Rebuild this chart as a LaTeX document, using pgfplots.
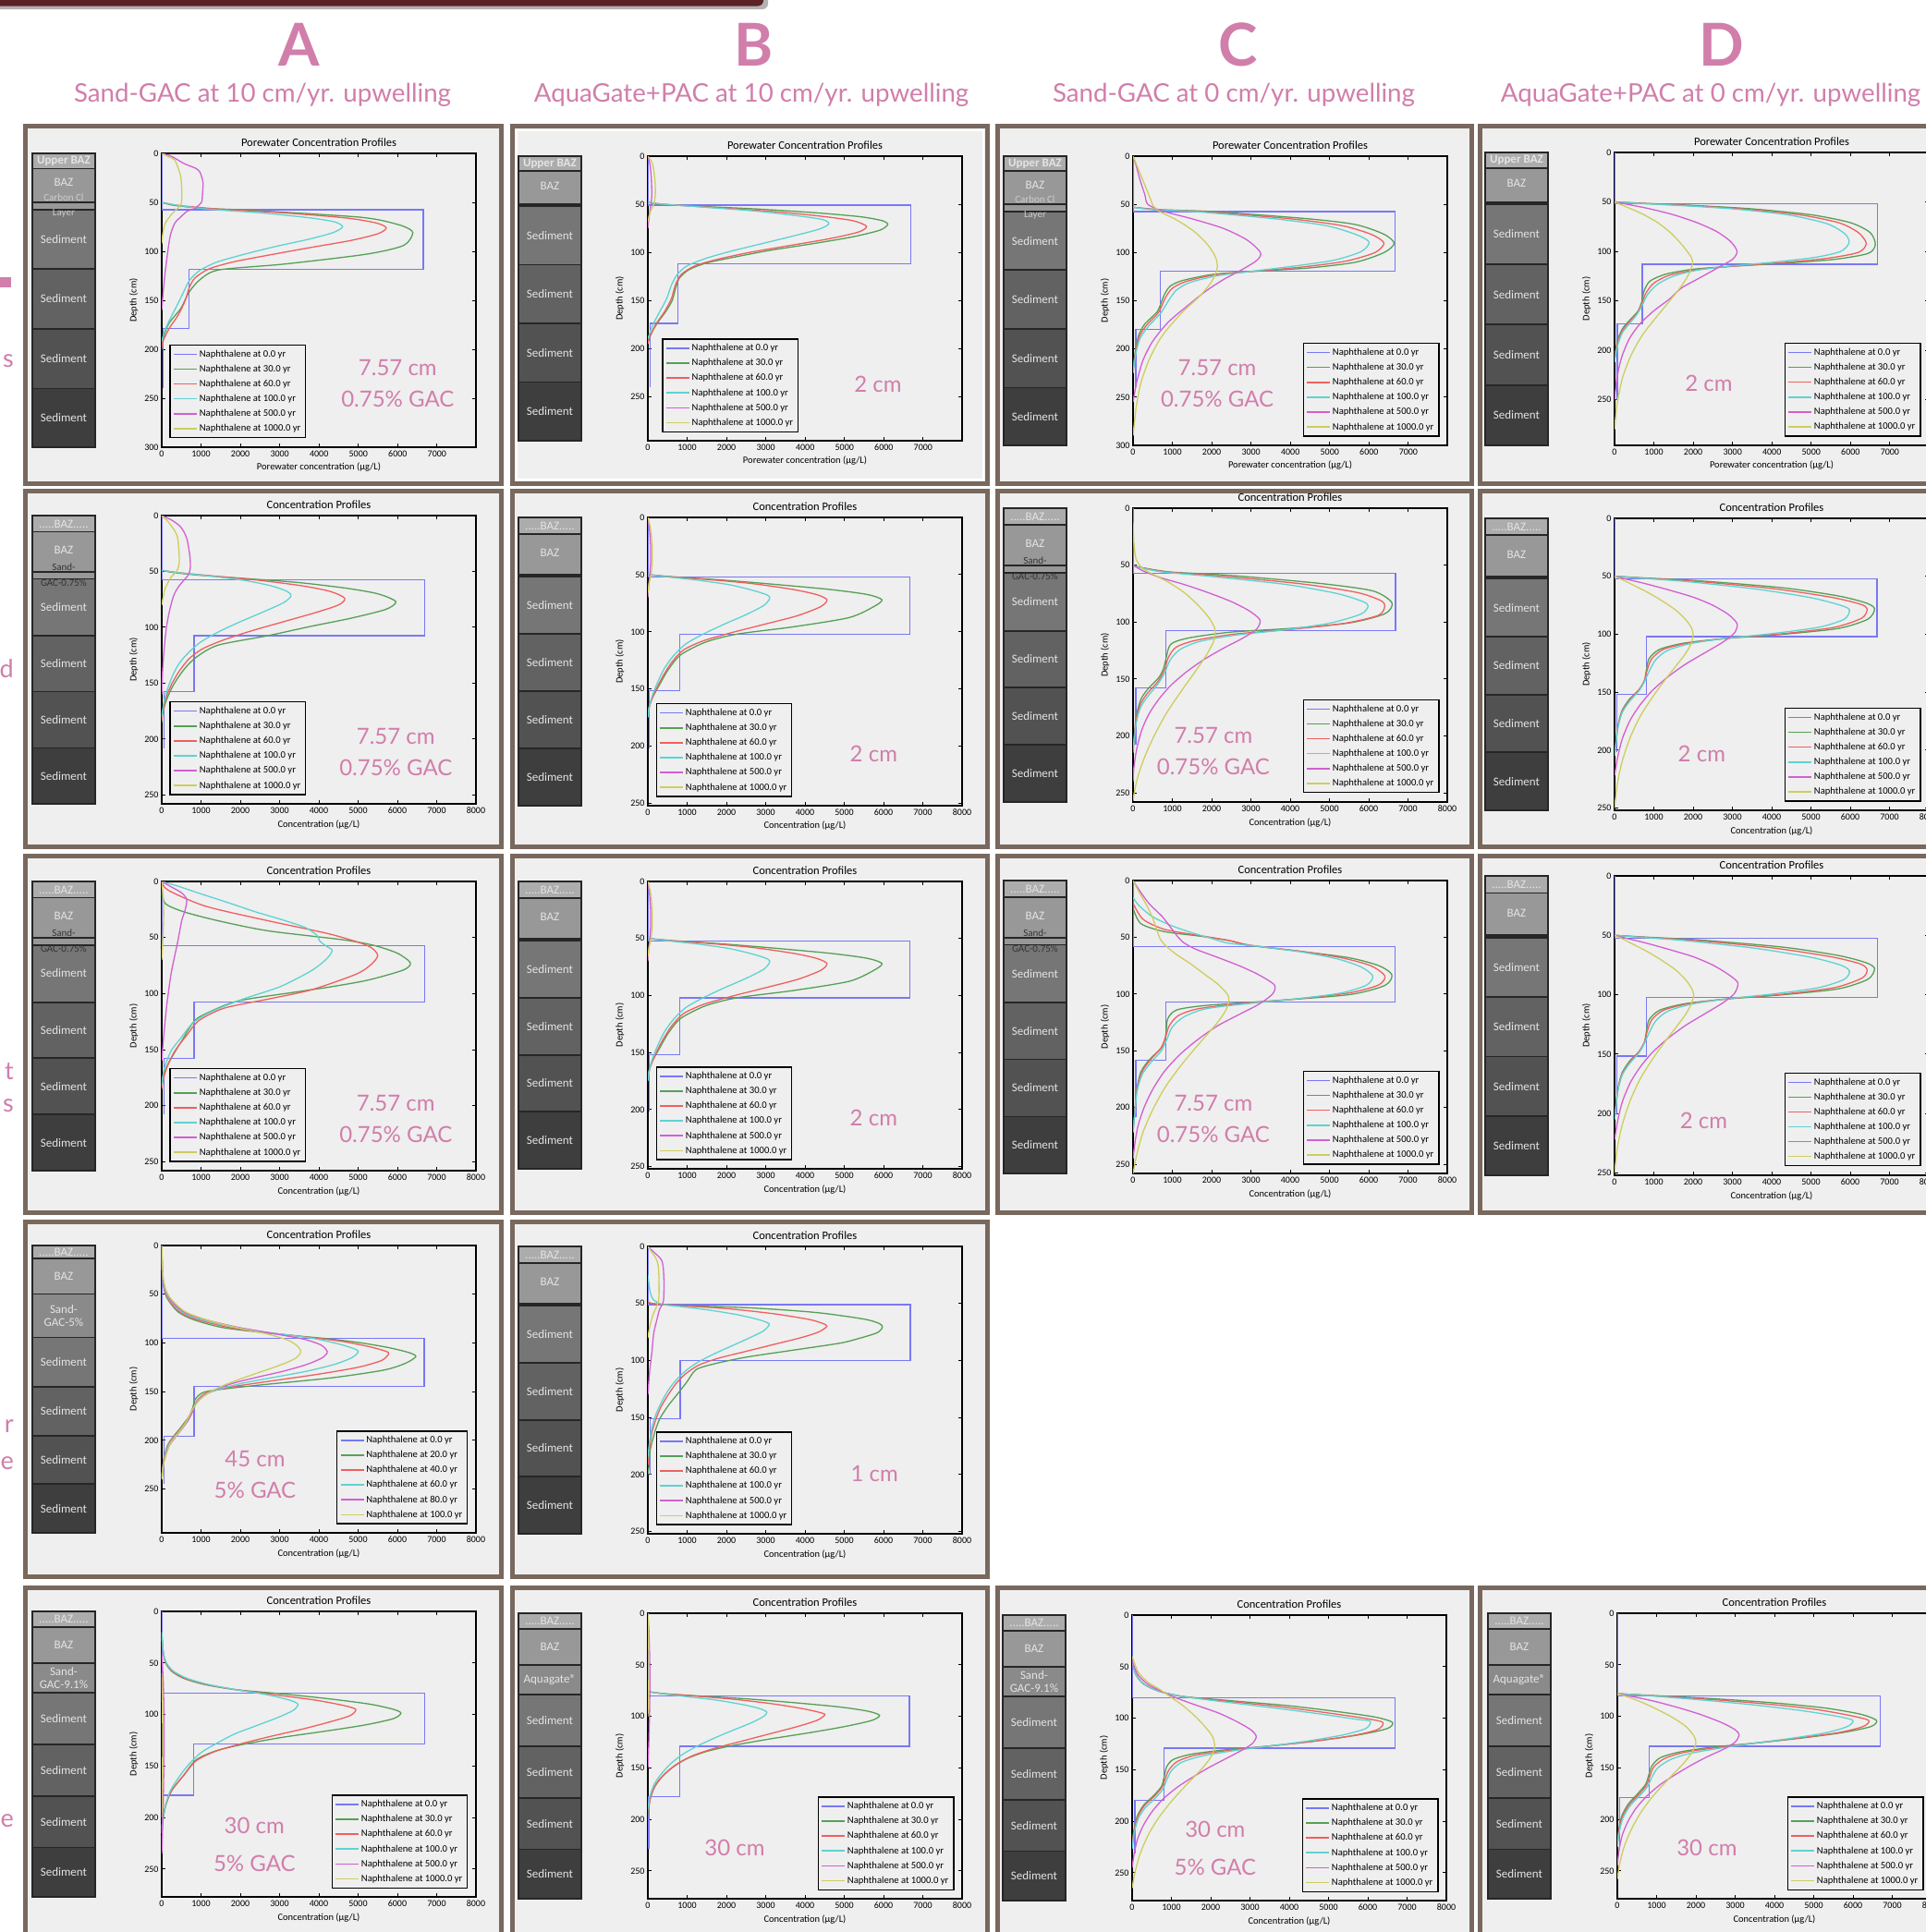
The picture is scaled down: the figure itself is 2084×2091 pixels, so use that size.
\documentclass[border=0pt]{standalone}
\usepackage{fontspec}
\setmainfont{Carlito}
\newfontfamily\lato{Lato}
\usepackage{pgfplots}
\pgfplotsset{compat=1.18}

\definecolor{pbg}{RGB}{239,239,239}
\definecolor{pbord}{RGB}{120,104,93}
\definecolor{pinkc}{RGB}{209,126,171}
\definecolor{topred}{RGB}{92,34,38}
\definecolor{cB}{RGB}{120,120,245}
\definecolor{cG}{RGB}{85,160,85}
\definecolor{cR}{RGB}{240,95,95}
\definecolor{cC}{RGB}{95,210,210}
\definecolor{cM}{RGB}{210,95,210}
\definecolor{cY}{RGB}{205,205,95}
\definecolor{lU}{RGB}{172,172,172}
\definecolor{lB}{RGB}{152,152,152}
\definecolor{lS}{RGB}{138,138,138}
\definecolor{sA}{RGB}{118,118,118}
\definecolor{sB}{RGB}{98,98,98}
\definecolor{sC}{RGB}{82,82,82}
\definecolor{sD}{RGB}{62,62,62}
\definecolor{laytx}{RGB}{228,228,228}

\newcommand\tickf{\fontsize{10}{11}\selectfont}
\newcommand\labf{\fontsize{10.5}{12}\selectfont}
\newcommand\titf{\fontsize{12.5}{14}\selectfont}
\newcommand\legf{\fontsize{10.6}{11.5}\selectfont}
\newcommand\layf{\fontsize{13}{14}\selectfont}
\newcommand\annf{\lato\fontsize{24}{34}\selectfont}

\pgfplotsset{
 pbase/.style={
  scale only axis, width=340pt, anchor=north west,
  xmin=0, ymin=0, y dir=reverse,
  xtick={0,1000,...,8000}, ytick={0,50,...,300},
  tick align=inside, major tick length=4pt,
  every tick/.style={black, line width=0.9pt},
  axis line style={black, line width=1.4pt},
  tick label style={font=\tickf},
  label style={font=\labf},
  title style={font=\titf, yshift=-2pt},
  ylabel={Depth (cm)},
  scaled ticks=false,
  /pgf/number format/assume math mode=true,
  /pgf/number format/1000 sep={},
  clip mode=individual,
  legend cell align=left,
  legend style={font=\legf, draw=black, line width=1.2pt, fill=pbg, inner sep=3.5pt, row sep=3.2pt,
    /tikz/every even column/.append style={column sep=4pt}},
  legend image code/.code={\draw (0pt,0pt) -- (25pt,0pt);},
 },
 prowone/.style={title={Porewater Concentration Profiles}, xlabel={Porewater concentration (µg/L)}, xmax=7990, xtick={0,1000,...,7000}},
 prow/.style={title={Concentration Profiles}, xlabel={Concentration (µg/L)}, xmax=8000},
 legLL/.style={legend style={at={(0.025,0.03)},anchor=south west}},
 legLR/.style={legend style={at={(0.975,0.03)},anchor=south east}},
 pB/.style={cB, line width=1.3pt},
 pG/.style={cG, line width=1.3pt, smooth, tension=0.45},
 pR/.style={cR, line width=1.3pt, smooth, tension=0.45},
 pC/.style={cC, line width=1.3pt, smooth, tension=0.45},
 pM/.style={cM, line width=1.3pt, smooth, tension=0.45},
 pY/.style={cY, line width=1.3pt, smooth, tension=0.45},
}
\tikzset{anno/.style={text=pinkc, font=\annf, align=center}}

\newcommand\legA{\legend{Naphthalene at 0.0 yr,Naphthalene at 30.0 yr,Naphthalene at 60.0 yr,Naphthalene at 100.0 yr,Naphthalene at 500.0 yr,Naphthalene at 1000.0 yr}}
\newcommand\legB{\legend{Naphthalene at 0.0 yr,Naphthalene at 20.0 yr,Naphthalene at 40.0 yr,Naphthalene at 60.0 yr,Naphthalene at 80.0 yr,Naphthalene at 100.0 yr}}

% layer block: depth1 depth2 mid colour label
\newcommand\lay[5]{%
 \filldraw[fill=#4, draw=black!85, line width=1.8pt] ({rel axis cs:-0.412,0}|-{axis cs:0,#1}) rectangle ({rel axis cs:-0.212,0}|-{axis cs:0,#2});
 \node[text=laytx, font=\layf, inner sep=0pt, align=center] at ({rel axis cs:-0.312,0}|-{axis cs:0,#3}) {#5};}
\newcommand\laynote[3]{\node[text=#2, font=\fontsize{11}{12}\selectfont, inner sep=0pt] at ({rel axis cs:-0.312,0}|-{axis cs:0,#1}) {#3};}

\newcommand\LsandP{%
 \lay{0}{15.5}{8}{lU}{\textbf{Upper BAZ}}
 \lay{15.5}{50}{30}{lB}{BAZ}
 \lay{50}{57.5}{53.7}{lB}{}
 \lay{57.5}{118}{88}{sA}{Sediment}
 \lay{118}{179}{148.5}{sB}{Sediment}
 \lay{179}{240}{209.5}{sC}{Sediment}
 \lay{240}{300}{270}{sD}{Sediment}
 \laynote{45}{black!20}{Carbon Cl}
 \laynote{61}{black!20}{Layer}}
\newcommand\LaquaP{%
 \lay{0}{15.5}{8}{lU}{\textbf{Upper BAZ}}
 \lay{15.5}{50}{31}{lB}{BAZ}
 \lay{50}{52}{51}{black!85}{}
 \lay{52}{113}{82.5}{sA}{Sediment}
 \lay{113}{174}{143.5}{sB}{Sediment}
 \lay{174}{235}{204.5}{sC}{Sediment}
 \lay{235}{296}{265.5}{sD}{Sediment}}
\newcommand\LsandC{%
 \lay{0}{14.4}{7.5}{lU}{.....BAZ.....}
 \lay{14.4}{50.5}{31}{lB}{BAZ}
 \lay{50.5}{56.6}{53.5}{lB}{}
 \lay{56.6}{107.7}{82}{sA}{Sediment}
 \lay{107.7}{157.5}{132.6}{sB}{Sediment}
 \lay{157.5}{208}{182.7}{sC}{Sediment}
 \lay{208}{258}{233}{sD}{Sediment}
 \laynote{46}{black!80}{Sand-}
 \laynote{60}{black!80}{GAC-0.75\%}}
\newcommand\LaquaC{%
 \lay{0}{14.4}{7.5}{lU}{.....BAZ.....}
 \lay{14.4}{50}{31}{lB}{BAZ}
 \lay{50}{52}{51}{black!85}{}
 \lay{52}{102}{77}{sA}{Sediment}
 \lay{102}{152}{127}{sB}{Sediment}
 \lay{152}{202}{177}{sC}{Sediment}
 \lay{202}{252}{227}{sD}{Sediment}}
\newcommand\LfourA{%
 \lay{0}{13.6}{7}{lU}{.....BAZ.....}
 \lay{13.6}{49.7}{31.5}{lB}{BAZ}
 \lay{49.7}{94.3}{72}{lS}{Sand-\\GAC-5\%}
 \lay{94.3}{145}{120}{sA}{Sediment}
 \lay{145}{195}{170}{sB}{Sediment}
 \lay{195}{245}{220}{sC}{Sediment}
 \lay{245}{295}{270}{sD}{Sediment}}
\newcommand\Lfive[1]{%
 \lay{0}{15}{7.5}{lU}{.....BAZ.....}
 \lay{15}{50}{32.5}{lB}{BAZ}
 \lay{50}{79}{64.5}{lS}{#1}
 \lay{79}{129}{104}{sA}{Sediment}
 \lay{129}{179}{154}{sB}{Sediment}
 \lay{179}{229}{204}{sC}{Sediment}
 \lay{229}{277}{253}{sD}{Sediment}}

\newcommand\pnl[4]{\draw[pbord, line width=5pt, fill=pbg] (#1pt+2.5pt,-#2pt-2.5pt) rectangle (#3pt-2.5pt,-#4pt+2.5pt);}

\begin{document}
\begin{tikzpicture}
\useasboundingbox (0pt,0pt) rectangle (2084pt,-2091pt);
\clip (0pt,0pt) rectangle (2084pt,-2091pt);
\fill[white] (0pt,0pt) rectangle (2084pt,-2091pt);
% top bar
\fill[black!30, rounded corners=6pt] (-20pt,10pt) rectangle (831pt,-10pt);
\fill[topred, rounded corners=6pt] (-20pt,10pt) rectangle (826pt,-6.5pt);
% headers
\foreach \x/\L in {324/A,816/B,1340/C,1863/D}
  \node[text=pinkc, font=\lato\bfseries\fontsize{64}{64}\selectfont, inner sep=0pt] at (\x pt,-48pt) {\L};
\node[text=pinkc, font=\lato\fontsize{27.7}{30}\selectfont, inner sep=0pt] at (284pt,-103pt) {Sand-GAC at 10 cm/yr. upwelling};
\node[text=pinkc, font=\lato\fontsize{27.7}{30}\selectfont, inner sep=0pt] at (813pt,-103pt) {AquaGate+PAC at 10 cm/yr. upwelling};
\node[text=pinkc, font=\lato\fontsize{27.7}{30}\selectfont, inner sep=0pt] at (1335pt,-103pt) {Sand-GAC at 0 cm/yr. upwelling};
\node[text=pinkc, font=\lato\fontsize{27.7}{30}\selectfont, inner sep=0pt] at (1851pt,-103pt) {AquaGate+PAC at 0 cm/yr. upwelling};
% left edge fragments
\fill[pinkc] (0pt,-300pt) rectangle (12pt,-311pt);
\foreach \y/\t in {391/s,724/d,1160/t,1197/s,1544/r,1584/e,1971/e}
  \node[text=pinkc, font=\lato\fontsize{27}{30}\selectfont, inner sep=0pt, anchor=east] at (15pt,-\y pt) {\t};
% panels
\pnl{25}{134}{545}{526}\pnl{552}{134}{1071}{526}\pnl{1077}{134}{1595}{526}\pnl{1599}{134}{2110}{526}
\draw[white, line width=2pt] (559pt,-141pt) rectangle (1064pt,-519pt);
\pnl{25}{529}{545}{919}\pnl{552}{529}{1071}{919}\pnl{1077}{529}{1595}{919}\pnl{1599}{529}{2110}{919}
\pnl{25}{924}{545}{1315}\pnl{552}{924}{1071}{1315}\pnl{1077}{924}{1595}{1315}\pnl{1599}{924}{2110}{1315}
\pnl{25}{1320}{545}{1709}\pnl{552}{1320}{1071}{1709}
\pnl{25}{1716}{545}{2110}\pnl{552}{1716}{1071}{2110}\pnl{1077}{1716}{1595}{2110}\pnl{1599}{1716}{2110}{2110}

% ===== Row 1 =====
\begin{axis}[pbase, prowone, at={(175pt,-166pt)}, height=318pt, ymax=300, legLL]
\addplot[pB] coordinates {(0,0) (0,57.5) (6650,57.5) (6650,118.5) (700,118.5) (700,179) (40,179) (40,240)};
\addplot[pG] coordinates {(0,50) (300,53) (1000,56) (1930,57.5) (3500,61) (5000,65) (5600,68.5) (6150,74.5) (6385,81) (6150,94) (5190,103) (3120,113) (1450,119) (970,129) (690,142) (490,158) (175,174) (30,190) (0,200)};
\addplot[pR] coordinates {(0,50) (400,53) (1500,57) (3200,61) (4700,66) (5450,71) (5710,76) (5500,82) (4800,89) (3800,96) (2700,104) (1800,111) (1200,118) (850,127) (700,137) (600,150) (420,165) (200,178) (50,190) (0,198)};
\addplot[pC] coordinates {(0,50) (400,53) (1200,57) (2600,61) (3800,66) (4400,70) (4600,75) (4350,81) (3700,88) (2900,95) (2100,103) (1400,111) (950,120) (700,130) (550,142) (380,156) (200,170) (60,183) (0,192)};
\addplot[pM] coordinates {(0,0) (250,3) (573,10.5) (850,15) (970,19) (1050,30) (1030,45) (1010,50) (850,56) (650,59) (480,65) (335,71) (230,82) (175,94) (95,119) (40,140) (0,160)};
\addplot[pY] coordinates {(0,0) (200,4) (335,7) (480,23) (510,40) (495,52) (380,57) (255,62) (95,71) (30,81) (0,92)};
\legA
\LsandP
\node[anno] at (axis cs:6000,235) {7.57 cm\\0.75\% GAC};
\end{axis}

\begin{axis}[pbase, prowone, at={(701pt,-169pt)}, height=308pt, ymax=296, legend style={at={(0.045,0.03)},anchor=south west}]
\addplot[pB] coordinates {(0,0) (0,51) (6680,51) (6680,112) (760,112) (760,174) (60,174) (60,240)};
\addplot[pG] coordinates {(0,48) (300,50) (1200,52) (2800,55) (4300,59) (5400,63) (5950,67) (6100,71) (5900,77) (5200,84) (4200,91) (3100,98) (2200,105) (1500,111) (1050,118) (800,127) (700,138) (620,150) (450,162) (250,173) (80,185) (0,195)};
\addplot[pR] coordinates {(0,48) (400,50) (1500,53) (3000,57) (4300,62) (5200,67) (5560,73) (5350,79) (4600,86) (3600,93) (2600,100) (1800,107) (1200,114) (850,123) (700,134) (600,148) (420,162) (200,175) (50,188) (0,195)};
\addplot[pC] coordinates {(0,48) (400,50) (1400,53) (2700,57) (3800,62) (4450,66) (4600,70.5) (4350,76) (3700,83) (2900,91) (2100,99) (1500,106) (1000,114) (750,123) (600,134) (480,148) (300,162) (120,176) (0,190)};
\addplot[pM] coordinates {(0,0) (60,10) (90,25) (100,40) (80,50) (40,60) (0,75)};
\addplot[pY] coordinates {(0,0) (120,8) (180,25) (190,40) (150,50) (60,58) (0,68)};
\legA
\LaquaP
\node[anno] at (axis cs:5850,237) {2 cm};
\end{axis}

\begin{axis}[pbase, prowone, at={(1226pt,-169pt)}, height=313pt, ymax=300, legLR]
\addplot[pB] coordinates {(0,0) (0,57.6) (6660,57.6) (6660,119) (697,119) (697,180) (70,180) (70,240)};
\addplot[pG] coordinates {(0,53) (700,55.5) (2060,57.6) (4460,65) (5660,71) (6380,81) (6640,90.5) (6380,100) (5660,110) (4460,116) (3260,119) (2060,122.5) (1260,129) (940,135) (780,145) (620,161) (300,174) (140,186) (60,202) (0,220)};
\addplot[pR] coordinates {(0,53) (600,55.5) (1800,57.6) (4000,65) (5300,72) (6050,81) (6380,90) (6150,100) (5400,109) (4300,115) (3200,119) (2100,123) (1350,130) (1000,137) (820,147) (650,162) (350,175) (160,187) (70,203) (0,222)};
\addplot[pC] coordinates {(0,53) (500,55.5) (1600,57.6) (3600,65) (4900,72) (5650,81) (6000,89) (5800,99) (5100,108) (4100,114) (3100,119) (2150,124) (1450,131) (1100,139) (900,150) (700,163) (400,176) (180,189) (70,205) (0,225)};
\addplot[pM] coordinates {(0,0) (80,10) (180,25) (300,40) (376,50) (750,57) (1500,65) (2300,75) (2900,87) (3240,100) (3150,108) (2800,117) (2300,128) (1850,140) (1420,154) (900,172) (500,192) (250,212) (90,235) (0,255)};
\addplot[pY] coordinates {(0,0) (100,10) (250,25) (400,40) (520,52) (700,58) (1100,66) (1550,78) (1900,92) (2100,105) (2140,116) (2000,130) (1700,145) (1300,160) (900,178) (650,192) (400,212) (200,235) (80,260) (0,290)};
\legA
\LsandP
\node[anno] at (axis cs:2140,236) {7.57 cm\\0.75\% GAC};
\end{axis}

\begin{axis}[pbase, prowone, at={(1747pt,-165pt)}, height=317pt, ymax=296, legLR]
\addplot[pB] coordinates {(0,0) (0,52) (6680,52) (6680,113) (708,113) (708,173) (70,173) (70,250)};
\addplot[pG] coordinates {(0,50) (800,51.5) (2000,53.5) (3500,57) (5000,63) (6000,71) (6500,81) (6630,93) (6450,102) (5600,108) (4300,112) (3000,115) (2000,118) (1300,123) (900,130) (750,140) (700,150) (600,160) (420,168) (220,177) (90,188) (0,205)};
\addplot[pR] coordinates {(0,50) (700,51.5) (1800,53.5) (3200,57) (4700,63) (5700,71) (6200,81) (6400,92) (6200,101) (5400,107) (4200,111.5) (3000,115) (2100,118.5) (1400,124) (1000,132) (800,142) (700,152) (580,162) (400,170) (200,180) (80,192) (0,210)};
\addplot[pC] coordinates {(0,50) (600,51.5) (1600,53.5) (3000,57) (4400,63) (5400,72) (5850,82) (5965,91) (5750,100) (5100,106) (4000,111) (2900,115) (2100,119) (1500,125) (1100,133) (850,143) (720,153) (580,163) (400,172) (200,182) (80,195) (0,212)};
\addplot[pM] coordinates {(0,50) (400,53) (900,57) (1500,63) (2100,71) (2600,80) (2950,90) (3116,100) (3000,108) (2650,116) (2200,126) (1700,137) (1400,148) (1000,160) (650,173) (380,188) (180,207) (60,228) (0,250)};
\addplot[pY] coordinates {(0,50) (300,55) (700,62) (1100,71) (1450,82) (1750,95) (1950,106) (1986,112) (1900,122) (1700,135) (1400,150) (1050,167) (700,185) (420,205) (200,228) (60,255) (0,280)};
\legA
\LaquaP
\node[anno] at (axis cs:2394,233) {2 cm};
\end{axis}

% ===== Row 2 =====
\begin{axis}[pbase, prow, at={(175pt,-558pt)}, height=312pt, ymax=258, legLL]
\addplot[pB] coordinates {(0,0) (0,57.2) (6690,57.2) (6690,107.5) (827,107.5) (827,157.5) (60,157.5) (60,208)};
\addplot[pG] coordinates {(0,49) (300,51) (1000,53.5) (2200,56.5) (3500,60) (4700,65) (5500,70) (5960,77) (5700,84) (4800,92) (3815,99) (2700,107.5) (1430,116) (870,127) (560,138) (290,152) (110,166) (20,178) (0,185)};
\addplot[pR] coordinates {(0,49) (400,51) (1300,54) (2500,58) (3600,63) (4300,68) (4660,74) (4500,80) (3900,87) (3100,95) (2300,103) (1600,111) (1050,119) (700,128) (450,139) (250,151) (100,164) (20,176) (0,183)};
\addplot[pC] coordinates {(0,49) (400,51) (1200,54) (2100,58) (2800,63) (3200,68) (3290,72) (3100,78) (2600,86) (2000,95) (1450,104) (1000,113) (700,122) (450,132) (280,143) (140,156) (50,168) (0,180)};
\addplot[pM] coordinates {(0,0) (250,4) (450,9) (556,14) (650,22) (715,36) (730,46) (680,53) (560,58) (420,64) (300,72) (200,85) (120,100) (60,120) (20,140) (0,160)};
\addplot[pY] coordinates {(0,0) (150,5) (300,12) (400,19) (445,35) (440,44) (380,50) (240,55) (80,66) (0,80)};
\legA
\LsandC
\node[anno] at (axis cs:5960,212) {7.57 cm\\0.75\% GAC};
\end{axis}

\begin{axis}[pbase, prow, at={(701pt,-560pt)}, height=312pt, ymax=252, legLL]
\addplot[pB] coordinates {(0,0) (0,52) (6670,52) (6670,102) (808,102) (808,151.7) (40,151.7) (40,202)};
\addplot[pG] coordinates {(0,50) (680,52) (1800,54.5) (3060,58) (4640,63) (5590,67.4) (5960,72) (5750,78) (5120,87.6) (3690,95.7) (2270,102) (1470,109) (840,120) (520,133) (285,147) (80,160) (0,170)};
\addplot[pR] coordinates {(0,50) (600,52) (1600,54.5) (2700,58) (3700,63) (4300,67.5) (4560,72) (4400,78) (3800,86) (2900,94) (2100,101) (1400,108) (900,116) (600,127) (380,139) (200,151) (60,163) (0,172)};
\addplot[pC] coordinates {(0,50) (500,52) (1300,55) (2100,59) (2700,64) (3050,68) (3100,71) (2950,77) (2500,85) (1900,94) (1350,103) (950,111) (650,121) (420,132) (250,144) (110,156) (30,167) (0,175)};
\addplot[pM] coordinates {(0,0) (40,10) (70,25) (70,40) (50,50) (20,60) (0,70)};
\addplot[pY] coordinates {(0,0) (70,10) (110,25) (110,40) (80,50) (30,58) (0,66)};
\legA
\LaquaC
\node[anno] at (axis cs:5750,207) {2 cm};
\end{axis}

\begin{axis}[pbase, prow, at={(1226pt,-550pt)}, height=318pt, ymax=258, legLR]
\addplot[pB] coordinates {(0,0) (0,57.3) (6680,57.3) (6680,107.5) (833,107.5) (833,157.8) (70,157.8) (70,208)};
\addplot[pG] coordinates {(0,50) (200,52) (950,56) (2470,59) (4740,66) (6100,72.6) (6590,83) (6410,92.7) (5500,100.8) (3985,105.6) (2470,108.9) (1410,114) (955,119.6) (833,133) (773,141) (650,149) (380,158.6) (197,168) (90,181) (45,195) (0,215)};
\addplot[pR] coordinates {(0,50) (180,52) (850,56) (2200,59.5) (4300,66.5) (5700,74) (6300,81) (6410,86) (6250,94) (5400,101) (4000,106.5) (2600,110.5) (1600,116) (1100,122) (900,131) (800,142) (640,152) (380,162) (190,172) (80,186) (0,212)};
\addplot[pC] coordinates {(0,50) (160,52) (750,56) (2000,60) (3900,67) (5200,75) (5850,82) (5985,86) (5800,93) (5000,101) (3800,107) (2600,111.5) (1700,117) (1200,124) (950,133) (800,145) (620,155) (380,165) (190,175) (80,189) (0,212)};
\addplot[pM] coordinates {(0,50) (250,55) (700,61) (1300,67) (1900,74) (2500,82) (2950,90) (3230,98) (3150,106) (2800,114) (2300,123) (1800,133) (1350,144) (950,156) (650,168) (400,181) (220,195) (90,212) (20,228) (0,240)};
\addplot[pY] coordinates {(0,12) (20,30) (80,45) (250,53) (500,58) (900,65) (1300,74) (1650,85) (1950,97) (2090,107) (2050,117) (1850,130) (1550,145) (1200,162) (850,180) (550,199) (300,218) (120,236) (30,250) (0,257)};
\legA
\LsandC
\node[anno] at (axis cs:2045,213) {7.57 cm\\0.75\% GAC};
\end{axis}

\begin{axis}[pbase, prow, at={(1747pt,-561pt)}, height=316pt, ymax=252, legLR]
\addplot[pB] coordinates {(0,0) (0,52.3) (6680,52.3) (6680,102) (810,102) (810,151.7) (60,151.7) (60,202)};
\addplot[pG] coordinates {(0,50) (800,51.5) (2200,54) (4300,60) (5700,67) (6400,73) (6620,78) (6450,87) (5700,95) (4300,100) (2900,103.5) (1800,107.5) (1150,113) (880,121) (810,131) (760,140) (620,148) (380,156) (190,166) (80,180) (0,205)};
\addplot[pR] coordinates {(0,50) (700,51.5) (2000,54.2) (4000,60.5) (5500,68) (6250,74) (6430,78) (6300,86) (5600,94) (4300,99.5) (3000,103) (1900,107.5) (1250,113) (950,121) (830,131) (760,140) (620,148) (380,157) (190,167) (80,181) (0,205)};
\addplot[pC] coordinates {(0,50) (600,51.5) (1800,54.5) (3600,61) (5000,68.5) (5750,75) (5980,79) (5850,87) (5200,94) (4000,99.5) (2850,103.5) (1950,108) (1350,114) (1050,122) (880,132) (760,141) (620,149) (380,158) (190,168) (80,182) (0,205)};
\addplot[pM] coordinates {(0,50) (300,52.5) (800,56.5) (1400,62) (2000,68) (2500,75) (2900,83) (3120,91) (3050,99) (2750,107) (2300,116) (1800,126) (1350,137) (950,149) (650,161) (400,174) (200,190) (80,206) (0,222)};
\addplot[pY] coordinates {(0,50) (200,53) (500,58) (850,64) (1200,71) (1550,79) (1800,87) (1950,94) (2000,100) (1950,108) (1800,117) (1550,128) (1250,141) (950,155) (650,171) (400,189) (200,209) (70,229) (0,250)};
\legA
\LaquaC
\node[anno] at (axis cs:2220,203) {2 cm};
\end{axis}

% ===== Row 3 =====
\begin{axis}[pbase, prow, at={(175pt,-954pt)}, height=313pt, ymax=258, legLL]
\addplot[pB] coordinates {(0,0) (0,57.4) (6690,57.4) (6690,107.6) (827,107.6) (827,157.6) (60,157.6) (60,208)};
\addplot[pG] coordinates {(0,10) (100,20) (556,27) (1430,35) (2700,44) (4610,52) (5400,57) (6000,64) (6330,72.6) (6150,79) (5250,88) (4300,94) (3340,99) (1900,107) (950,121) (700,131) (530,141) (320,153) (130,165) (30,176) (0,184)};
\addplot[pR] coordinates {(0,0) (160,7.7) (1110,22) (2700,35) (4290,47) (5250,57.4) (5500,66) (5300,75) (4930,83) (3815,96.6) (2700,105) (1590,113) (950,124) (640,137) (320,152) (130,166) (30,178) (0,185)};
\addplot[pC] coordinates {(0,0) (400,4) (950,10.5) (1700,19) (2380,27) (3050,34) (3650,41) (3950,48) (4020,53) (4200,58) (4340,61.5) (4200,69) (3815,79.5) (3020,93.8) (2070,104.9) (1270,116) (800,126) (480,140) (240,151) (80,165) (20,175) (0,182)};
\addplot[pM] coordinates {(0,0) (250,5) (500,10) (636,16) (600,25) (509,35) (400,55) (240,82) (130,110) (50,138) (0,160)};
\addplot[pY] coordinates {(0,0) (40,15) (50,30) (30,50) (0,70)};
\legA
\LsandC
\node[anno] at (axis cs:5960,212) {7.57 cm\\0.75\% GAC};
\end{axis}

\begin{axis}[pbase, prow, at={(701pt,-954pt)}, height=311pt, ymax=252, legLL]
\addplot[pB] coordinates {(0,0) (0,52) (6670,52) (6670,102) (808,102) (808,151.7) (40,151.7) (40,202)};
\addplot[pG] coordinates {(0,50) (680,52) (1800,54.5) (3060,58) (4640,63) (5590,67.4) (5960,72) (5750,78) (5120,87.6) (3690,95.7) (2270,102) (1470,109) (840,120) (520,133) (285,147) (80,160) (0,170)};
\addplot[pR] coordinates {(0,50) (600,52) (1600,54.5) (2700,58) (3700,63) (4300,67.5) (4560,72) (4400,78) (3800,86) (2900,94) (2100,101) (1400,108) (900,116) (600,127) (380,139) (200,151) (60,163) (0,172)};
\addplot[pC] coordinates {(0,50) (500,52) (1300,55) (2100,59) (2700,64) (3050,68) (3100,71) (2950,77) (2500,85) (1900,94) (1350,103) (950,111) (650,121) (420,132) (250,144) (110,156) (30,167) (0,175)};
\addplot[pM] coordinates {(0,0) (40,10) (70,25) (70,40) (50,50) (20,60) (0,70)};
\addplot[pY] coordinates {(0,0) (70,10) (110,25) (110,40) (80,50) (30,58) (0,66)};
\legA
\LaquaC
\node[anno] at (axis cs:5750,207) {2 cm};
\end{axis}

\begin{axis}[pbase, prow, at={(1226pt,-953pt)}, height=317pt, ymax=258, legLR]
\addplot[pB] coordinates {(0,0) (0,57.9) (6670,57.9) (6670,107) (833,107) (833,158) (70,158) (70,208)};
\addplot[pG] coordinates {(0,24.5) (200,38) (800,45) (1710,49) (2470,53) (2920,57) (4290,62.5) (5500,68) (6260,75) (6590,83) (6410,92.4) (5500,100.5) (3530,106) (1860,110) (1110,114) (880,122) (833,136) (730,147) (420,157.6) (200,168.5) (90,185) (45,204) (0,220)};
\addplot[pR] coordinates {(0,20) (250,34) (800,43) (1700,48.5) (2400,52.5) (3000,57) (4200,62) (5300,68) (6050,75) (6410,84) (6250,92) (5500,99) (4100,104.5) (2700,108.5) (1650,113) (1150,119) (920,128) (820,139) (700,148) (440,158) (220,169) (100,184) (50,203) (0,220)};
\addplot[pC] coordinates {(0,15) (150,22) (500,32) (1000,40) (1500,46) (2000,51) (2400,55) (3200,58) (4300,63) (5200,69) (5800,76) (6100,84) (5950,92) (5300,99) (4200,104) (2900,108.5) (1850,113) (1300,120) (1000,129) (860,140) (720,150) (460,160) (230,171) (100,186) (50,204) (0,222)};
\addplot[pM] coordinates {(0,0) (150,8) (400,20) (750,32) (950,41) (1150,50) (1260,54) (1560,60) (2100,67) (2700,75) (3200,83) (3600,92) (3550,100) (3200,109) (2700,118) (2150,128) (1650,140) (1200,153) (800,168) (500,184) (280,200) (120,217) (40,233) (0,245)};
\addplot[pY] coordinates {(0,0) (150,10) (350,22) (500,33) (600,43) (700,52) (850,58) (1100,65) (1450,73) (1800,82) (2150,91) (2400,100) (2440,106) (2350,115) (2150,125) (1850,137) (1500,151) (1150,166) (800,183) (500,202) (250,222) (90,242) (0,258)};
\legA
\LsandC
\node[anno] at (axis cs:2045,210) {7.57 cm\\0.75\% GAC};
\end{axis}

\begin{axis}[pbase, prow, at={(1747pt,-948pt)}, height=324pt, ymax=252, legLR]
\addplot[pB] coordinates {(0,0) (0,52.6) (6700,52.6) (6700,102) (818,102) (818,151.6) (60,151.6) (60,201)};
\addplot[pG] coordinates {(0,50) (800,51.5) (2200,54) (4300,60) (5700,67) (6400,73) (6620,78) (6450,87) (5700,95) (4300,100) (2900,103.5) (1800,107.5) (1150,113) (880,121) (810,131) (760,140) (620,148) (380,156) (190,166) (80,180) (0,205)};
\addplot[pR] coordinates {(0,50) (700,51.5) (2000,54.2) (4000,60.5) (5500,68) (6250,74) (6430,79) (6300,86) (5600,94) (4300,99.5) (3000,103) (1900,107.5) (1250,113) (950,121) (830,131) (760,140) (620,148) (380,157) (190,167) (80,181) (0,205)};
\addplot[pC] coordinates {(0,50) (600,51.5) (1800,54.5) (3600,61) (5000,68.5) (5750,75) (5980,80) (5850,87) (5200,94) (4000,99.5) (2850,103.5) (1950,108) (1350,114) (1050,122) (880,132) (760,141) (620,149) (380,158) (190,168) (80,182) (0,205)};
\addplot[pM] coordinates {(0,50) (300,52.5) (800,56.5) (1400,62) (2000,68) (2500,75) (2900,83) (3140,90) (3050,99) (2750,107) (2300,116) (1800,126) (1350,137) (950,149) (650,161) (400,174) (200,190) (80,206) (0,222)};
\addplot[pY] coordinates {(0,50) (200,53) (500,58) (850,64) (1200,71) (1550,79) (1800,87) (1950,94) (2015,100) (1950,108) (1800,117) (1550,128) (1250,141) (950,155) (650,171) (400,189) (200,209) (70,229) (0,250)};
\legA
\LaquaC
\node[anno] at (axis cs:2270,206) {2 cm};
\end{axis}

% ===== Row 4 =====
\begin{axis}[pbase, prow, at={(175pt,-1348pt)}, height=311pt, ymax=295, legLR]
\addplot[pB] coordinates {(0,0) (0,95) (6685,95) (6685,144.6) (824,144.6) (824,195.6) (60,195.6) (60,245)};
\addplot[pG] coordinates {(0,0) (20,30) (60,45) (150,55) (410,68) (800,76) (1520,84) (2500,89) (3500,93) (4300,96) (5085,100) (5800,105) (6300,110) (6470,114) (6200,121) (5640,128) (4290,136) (2310,144) (1125,150) (850,158) (800,165) (700,175) (500,186) (300,196) (150,205) (50,220) (0,240)};
\addplot[pR] coordinates {(0,0) (20,30) (70,45) (170,55) (450,68) (900,76) (1700,84) (2700,89.5) (3700,94) (4600,98.5) (5300,104) (5700,108.5) (5780,111) (5600,118) (5000,125) (4000,132) (2800,139) (1800,145) (1150,151) (900,159) (820,167) (720,176) (520,186) (310,196) (160,205) (50,220) (0,240)};
\addplot[pC] coordinates {(0,0) (20,30) (80,45) (190,55) (500,68) (1000,76) (1850,84) (2850,90) (3800,95) (4500,101) (4900,106) (5005,109) (4850,115) (4400,122) (3700,129) (2900,135) (2100,141) (1500,147) (1100,153) (900,160) (800,168) (700,177) (520,187) (320,197) (160,206) (50,222) (0,240)};
\addplot[pM] coordinates {(0,0) (25,30) (90,45) (210,55) (550,68) (1100,76) (1950,84) (2850,90.5) (3600,96) (4050,102) (4215,109) (4100,115) (3700,122) (3100,129) (2450,135) (1850,141) (1350,148) (1050,155) (880,162) (780,170) (680,179) (520,188) (330,198) (170,207) (50,223) (0,240)};
\addplot[pY] coordinates {(0,0) (30,30) (100,45) (240,55) (600,68) (1200,77) (2000,85) (2700,91) (3200,97) (3450,103) (3540,109) (3400,116) (3000,123) (2500,130) (2000,137) (1550,144) (1200,151) (950,159) (800,167) (700,175) (560,185) (380,195) (200,205) (60,222) (0,240)};
\legB
\LfourA
\node[anno] at (axis cs:2376,235) {45 cm\\5\% GAC};
\end{axis}

\begin{axis}[pbase, prow, at={(701pt,-1349pt)}, height=311pt, ymax=252, legLL]
\addplot[pB] coordinates {(0,0) (0,51) (6680,51) (6680,100) (822,100) (822,151) (60,151) (60,200)};
\addplot[pG] coordinates {(0,48) (100,50) (750,51.6) (2680,54) (4300,58) (5500,63.7) (5900,67.7) (5970,71) (5830,75.8) (5340,81) (4860,85) (3490,92) (2520,97) (1720,102.7) (1230,108) (990,119) (750,129.6) (510,140) (306,151) (185,162) (64,178) (24,194) (0,200)};
\addplot[pR] coordinates {(0,48) (100,50) (700,51.7) (2000,54.5) (3200,59) (4100,64) (4450,67.5) (4560,70) (4350,75) (3900,80) (3200,86) (2500,92) (1800,98) (1300,104) (950,112) (700,121) (500,131) (330,141) (200,152) (100,164) (40,178) (0,192)};
\addplot[pC] coordinates {(0,25) (60,40) (150,47) (400,51) (900,53) (1600,56) (2300,60) (2800,64) (3050,67) (3085,69) (2950,74) (2600,80) (2150,87) (1700,94) (1300,101) (1000,108) (750,116) (540,125) (370,135) (220,146) (110,158) (40,172) (0,185)};
\addplot[pM] coordinates {(0,0) (120,4) (250,8) (350,12) (390,18) (410,30) (405,45) (380,50) (300,55) (225,65) (150,76) (105,92) (50,108) (24,119) (0,130)};
\addplot[pY] coordinates {(0,0) (100,5) (200,10) (260,16) (280,25) (285,40) (270,48) (220,53) (130,60) (50,70) (0,80)};
\legA
\LaquaC
\node[anno] at (axis cs:5770,199) {1 cm};
\end{axis}

% ===== Row 5 =====
\begin{axis}[pbase, prow, at={(175pt,-1744pt)}, height=309pt, ymax=277, legLR]
\addplot[pB] coordinates {(0,0) (0,79.4) (6690,79.4) (6690,128.6) (812,128.6) (812,178.4) (20,178.4) (20,227.6)};
\addplot[pG] coordinates {(0,20) (40,40) (100,50) (250,58) (560,65) (1100,71) (1900,76) (3060,80) (4300,85) (5300,90) (5900,95) (6090,98.7) (5900,104) (5200,110) (4200,116) (3100,122) (2125,128.6) (1400,135) (875,144) (560,159) (250,174) (94,189) (20,205) (0,215)};
\addplot[pR] coordinates {(0,20) (40,40) (110,50) (270,58) (600,65) (1150,71) (1900,76) (2900,81) (3900,86) (4600,91) (4940,95) (4800,101) (4300,107) (3600,114) (2800,121) (2000,128.6) (1350,136) (875,145) (560,159) (250,174) (94,189) (20,205) (0,215)};
\addplot[pC] coordinates {(0,20) (40,40) (120,50) (300,58) (650,65) (1200,71) (1900,76) (2700,81) (3250,86) (3470,90) (3350,96) (2950,103) (2400,111) (1850,119) (1400,128) (1000,137) (700,148) (450,160) (220,174) (90,189) (20,205) (0,215)};
\addplot[pM] coordinates {(0,40) (40,70) (60,110) (50,160) (30,200) (0,235)};
\addplot[pY] coordinates {(0,60) (20,100) (20,150) (0,200)};
\legA
\Lfive{Sand-\\GAC-9.1\%}
\node[anno, font=\lato\fontsize{24}{41}\selectfont] at (axis cs:2360,226) {30 cm\\5\% GAC};
\end{axis}

\begin{axis}[pbase, prow, at={(701pt,-1746pt)}, height=309pt, ymax=277, legLR]
\addplot[pB] coordinates {(0,0) (0,80) (6660,80) (6660,129) (812,129) (812,178) (20,178) (20,229)};
\addplot[pG] coordinates {(0,76) (400,78) (1200,80) (2500,83) (3800,87) (4900,91) (5600,95) (5900,99) (5700,104) (5000,110) (4100,116) (3100,122) (2200,128) (1500,134) (1000,141) (650,149) (380,158) (180,168) (60,180) (0,195)};
\addplot[pR] coordinates {(0,76) (400,78) (1100,80) (2200,83.5) (3200,88) (4000,93) (4450,97) (4500,99) (4300,104) (3800,110) (3100,117) (2400,124) (1700,131) (1150,138) (750,146) (450,155) (220,165) (80,177) (0,192)};
\addplot[pC] coordinates {(0,76) (350,78) (900,80.5) (1700,84) (2400,88.5) (2850,92.5) (3030,96) (2950,100) (2650,106) (2200,113) (1700,121) (1250,129) (880,137) (580,146) (340,156) (160,166) (50,178) (0,190)};
\addplot[pM] coordinates {(0,0) (30,20) (50,50) (50,80) (30,120) (0,150)};
\addplot[pY] coordinates {(0,0) (20,30) (20,70) (0,100)};
\legA
\Lfive{Aquagate®}
\node[anno] at (axis cs:2210,228) {30 cm};
\end{axis}

\begin{axis}[pbase, prow, at={(1225pt,-1748pt)}, height=309pt, ymax=277, legLR]
\addplot[pB] coordinates {(0,0) (0,80) (6690,80) (6690,129) (812,129) (812,179.6) (70,179.6) (70,231)};
\addplot[pG] coordinates {(0,45) (100,58) (300,67) (700,74) (1300,79) (2500,83) (4000,88) (5300,94) (6200,99) (6625,104) (6500,110) (5800,116) (4700,122) (3500,127) (2300,131) (1500,135) (1050,140) (880,147) (820,156) (750,166) (550,175) (300,184) (130,195) (40,210) (0,225)};
\addplot[pR] coordinates {(0,45) (100,58) (300,67) (700,74) (1300,79) (2400,83.5) (3800,89) (5000,95) (5900,100) (6380,104) (6250,111) (5600,117) (4600,122.5) (3500,127) (2400,131.5) (1600,136) (1150,142) (940,150) (850,158) (760,167) (560,176) (310,185) (140,196) (40,211) (0,226)};
\addplot[pC] coordinates {(0,45) (100,58) (300,67) (700,74) (1300,79) (2300,84) (3600,90) (4800,96) (5700,101) (6060,103) (5950,110) (5400,116) (4500,122) (3500,127) (2500,132) (1750,137) (1250,143) (1000,151) (880,160) (780,169) (580,178) (330,187) (150,198) (50,212) (0,227)};
\addplot[pM] coordinates {(0,45) (150,58) (400,67) (750,74) (1100,80) (1600,87) (2200,95) (2700,104) (3050,112) (3160,118) (3050,125) (2750,132) (2350,140) (1950,148) (1550,157) (1150,167) (800,178) (520,190) (300,203) (140,217) (50,232) (0,245)};
\addplot[pY] coordinates {(0,40) (150,55) (400,65) (700,72) (1000,80) (1300,88) (1600,98) (1850,108) (2050,118) (2100,128) (2000,138) (1800,148) (1550,158) (1250,170) (950,183) (650,198) (400,214) (200,232) (70,250) (0,265)};
\legA
\Lfive{Sand-\\GAC-9.1\%}
\node[anno, font=\lato\fontsize{24}{41}\selectfont] at (axis cs:2115,226) {30 cm\\5\% GAC};
\end{axis}

\begin{axis}[pbase, prow, at={(1750pt,-1746pt)}, height=309pt, ymax=277, legLR]
\addplot[pB] coordinates {(0,0) (0,80) (6690,80) (6690,129) (812,129) (812,179) (60,179) (60,227)};
\addplot[pG] coordinates {(0,78) (1000,80) (2500,83) (4000,87) (5300,92) (6200,98) (6600,104) (6450,110) (5700,116) (4600,121.5) (3500,126) (2400,130) (1600,134.5) (1100,140) (880,148) (800,157) (720,166) (520,175) (280,185) (110,197) (30,212) (0,225)};
\addplot[pR] coordinates {(0,78) (900,80) (2300,83.5) (3800,88) (5000,93) (5900,99) (6400,104) (6250,110) (5600,116) (4500,121.5) (3500,126) (2500,130.5) (1700,135) (1200,141) (930,149) (830,158) (740,167) (540,176) (300,186) (120,198) (30,213) (0,226)};
\addplot[pC] coordinates {(0,78) (800,80) (2100,84) (3500,89) (4700,94.5) (5600,100) (6000,104) (5850,110) (5300,116) (4400,121.5) (3500,126) (2600,131) (1850,136) (1350,142) (1030,150) (880,159) (770,168) (570,177) (320,187) (140,199) (40,214) (0,227)};
\addplot[pM] coordinates {(0,78) (400,81) (900,85) (1500,91) (2100,98) (2650,106) (3000,113) (3100,118) (3000,125) (2700,132) (2300,139) (1900,147) (1500,156) (1100,166) (760,177) (480,189) (270,202) (120,216) (40,231) (0,245)};
\addplot[pY] coordinates {(0,78) (250,81) (600,86) (1000,93) (1400,101) (1750,110) (1950,119) (2000,126) (1900,135) (1700,145) (1450,155) (1150,167) (850,180) (570,195) (340,211) (160,228) (50,245) (0,258)};
\legA
\Lfive{Aquagate®}
\node[anno] at (axis cs:2280,228) {30 cm};
\end{axis}

\end{tikzpicture}
\end{document}
